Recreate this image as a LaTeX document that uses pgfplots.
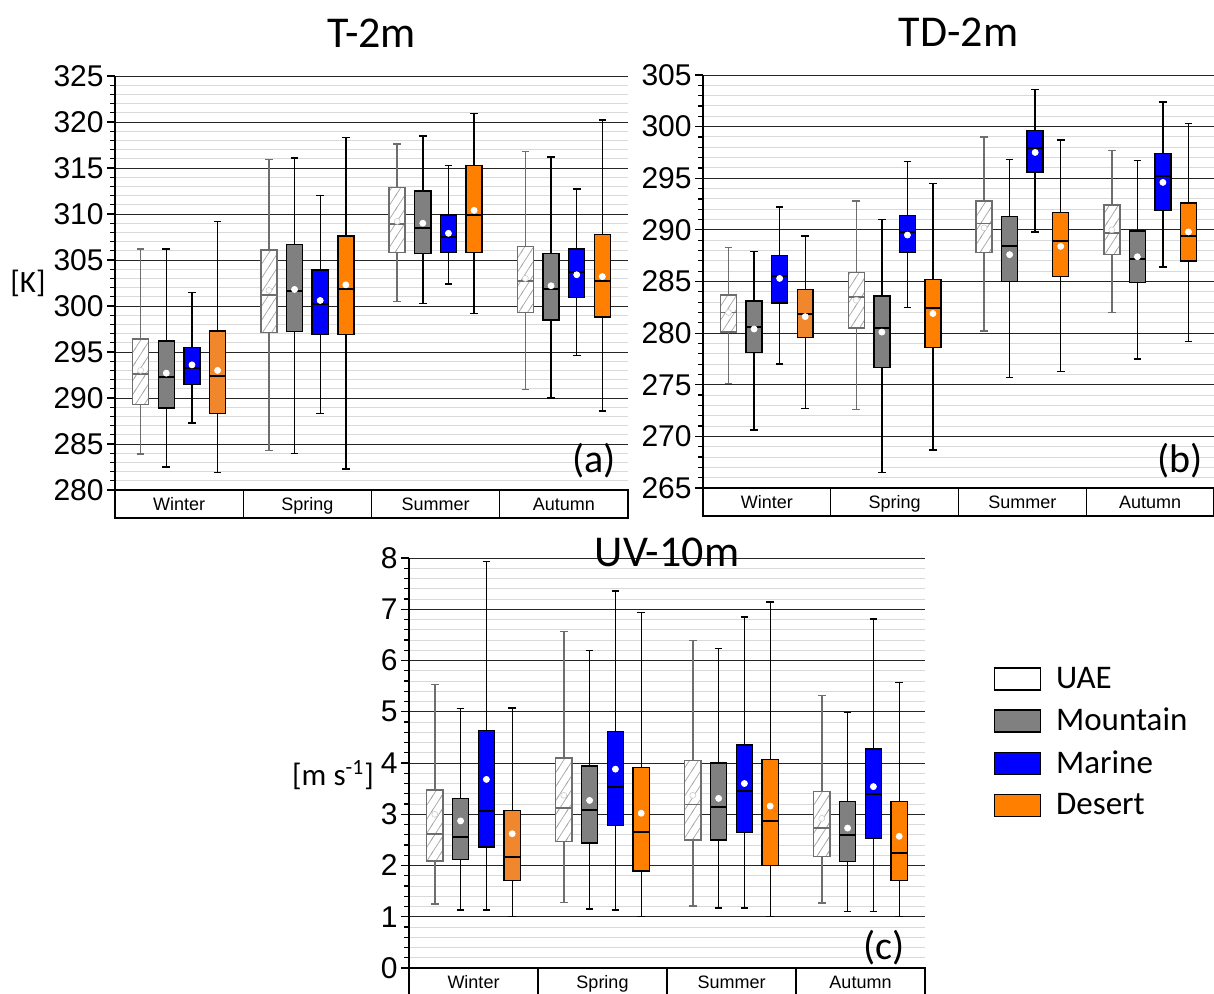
\documentclass[border=0pt]{standalone}
\usepackage{pgfplots}
\pgfplotsset{compat=1.18}
\usepgfplotslibrary{statistics}
\usetikzlibrary{patterns}
\usepackage{fontspec}
\setmainfont{Liberation Sans}
\newfontfamily\calfont{Carlito}
\definecolor{mgray}{RGB}{128,128,128}
\definecolor{mblue}{RGB}{0,0,255}
\definecolor{morange}{RGB}{255,128,0}
\definecolor{worange}{RGB}{240,135,45}
\definecolor{ugray}{RGB}{110,110,110}

\pgfdeclarepatternformonly{uaehatch}{\pgfqpoint{-1pt}{-1pt}}{\pgfqpoint{5.5pt}{8pt}}{\pgfqpoint{4.5pt}{7pt}}{%
  \pgfsetlinewidth{0.35pt}%
  \pgfpathmoveto{\pgfqpoint{-0.45pt}{-0.7pt}}%
  \pgfpathlineto{\pgfqpoint{4.95pt}{7.7pt}}%
  \pgfusepath{stroke}}

\newcommand{\bp}[7]{\addplot[#1, boxplot prepared={draw position=#2, lower whisker=#3, lower quartile=#4, median=#5, upper quartile=#6, upper whisker=#7}] coordinates {};}

\pgfplotsset{
  bpbase/.style={boxplot/draw direction=y, boxplot/box extend=0.125, boxplot/whisker extend=0.06, line width=0.7pt},
  uae/.style={bpbase, draw=ugray, boxplot/every box/.style={fill=white, postaction={pattern=uaehatch, pattern color=gray!70}}, boxplot/every median/.style={line width=0.8pt}},
  mtn/.style={bpbase, draw=black, boxplot/every box/.style={fill=mgray}, boxplot/every median/.style={line width=1pt}},
  mar/.style={bpbase, draw=black, boxplot/every box/.style={fill=mblue}, boxplot/every median/.style={line width=1pt}},
  des/.style={bpbase, draw=black, boxplot/every box/.style={fill=morange}, boxplot/every median/.style={line width=1pt}},
  desw/.style={bpbase, draw=black, boxplot/every box/.style={fill=worange}, boxplot/every median/.style={line width=1pt}},
  meanw/.style={only marks, mark=*, mark size=1.5pt, mark options={fill=white, draw=white}},
  meanu/.style={only marks, mark=*, mark size=1.5pt, mark options={fill=white, draw=gray!40, line width=0.3pt}},
  panel/.style={
    scale only axis, xmin=0, xmax=4, axis x line=none, axis y line*=left,
    tick align=outside, major tick length=4pt, minor tick length=2.5pt,
    minor y tick num=4, ymajorgrids, yminorgrids,
    major grid style={black!85, line width=0.5pt},
    minor grid style={black!15, line width=0.5pt},
    axis line style={black, line width=0.7pt},
    every tick/.style={black, line width=0.6pt},
    yticklabel style={font=\fontsize{15}{15}\selectfont, inner sep=1.5pt},
    /pgf/number format/assume math mode=true,
    clip=false,
  },
}

\newcommand{\catrow}{%
 \draw[line width=0.7pt] (rel axis cs:0,0) -- ([yshift=-14pt]rel axis cs:0,0) -- ([yshift=-14pt]rel axis cs:1,0) -- (rel axis cs:1,0) -- cycle;
 \draw[line width=0.7pt] (rel axis cs:0.25,0) -- ([yshift=-14pt]rel axis cs:0.25,0);
 \draw[line width=0.7pt] (rel axis cs:0.5,0) -- ([yshift=-14pt]rel axis cs:0.5,0);
 \draw[line width=0.7pt] (rel axis cs:0.75,0) -- ([yshift=-14pt]rel axis cs:0.75,0);
 \node[font=\fontsize{9}{9}\selectfont, anchor=base, inner sep=0pt] at ([yshift=-10.2pt]rel axis cs:0.125,0) {Winter};
 \node[font=\fontsize{9}{9}\selectfont, anchor=base, inner sep=0pt] at ([yshift=-10.2pt]rel axis cs:0.375,0) {Spring};
 \node[font=\fontsize{9}{9}\selectfont, anchor=base, inner sep=0pt] at ([yshift=-10.2pt]rel axis cs:0.625,0) {Summer};
 \node[font=\fontsize{9}{9}\selectfont, anchor=base, inner sep=0pt] at ([yshift=-10.2pt]rel axis cs:0.875,0) {Autumn};
}

\begin{document}
\begin{tikzpicture}
\useasboundingbox (0,0) rectangle (607pt,496.5pt);

% ---------------- (a) T-2m
\begin{axis}[panel, at={(57.5pt,251.5pt)}, anchor=south west,
  width=256.5pt, height=207pt, ymin=280, ymax=325, ytick distance=5]
\bp{uae}{0.2}{283.9}{289.3}{292.6}{296.4}{306.2}
\bp{mtn}{0.4}{282.5}{288.9}{292.3}{296.2}{306.2}
\bp{mar}{0.6}{287.3}{291.5}{293.3}{295.5}{301.5}
\bp{desw}{0.8}{281.9}{288.3}{292.4}{297.3}{309.2}
\bp{uae}{1.2}{284.3}{297.1}{301.2}{306.1}{315.9}
\bp{mtn}{1.4}{284.0}{297.2}{301.6}{306.7}{316.1}
\bp{mar}{1.6}{288.3}{296.9}{300.2}{303.9}{312.0}
\bp{des}{1.8}{282.3}{296.9}{301.9}{307.6}{318.3}
\bp{uae}{2.2}{300.5}{305.8}{308.9}{312.9}{317.6}
\bp{mtn}{2.4}{300.3}{305.7}{308.5}{312.5}{318.5}
\bp{mar}{2.6}{302.4}{305.8}{307.5}{309.9}{315.3}
\bp{des}{2.8}{299.2}{305.8}{309.9}{315.3}{320.9}
\bp{uae}{3.2}{290.9}{299.3}{302.7}{306.5}{316.8}
\bp{mtn}{3.4}{290.0}{298.5}{301.8}{305.7}{316.2}
\bp{mar}{3.6}{294.6}{300.9}{303.7}{306.2}{312.7}
\bp{des}{3.8}{288.6}{298.8}{302.7}{307.8}{320.2}
\addplot[meanu] coordinates {(0.2,293.0) (1.2,301.7) (2.2,309.2) (3.2,303.0)};
\addplot[meanw] coordinates {(0.4,292.7) (0.6,293.6) (0.8,293.0) (1.4,301.8) (1.6,300.6) (1.8,302.3)
 (2.4,309.0) (2.6,307.9) (2.8,310.4) (3.4,302.2) (3.6,303.4) (3.8,303.2)};
\catrow
\node[font=\calfont\fontsize{22}{22}\selectfont] at ([yshift=21.5pt]rel axis cs:0.5,1) {T-2m};
\node[font=\calfont\fontsize{15.5}{15.5}\selectfont] at ([xshift=-43.5pt]rel axis cs:0,0.5) {[K]};
\node[font=\calfont\fontsize{20}{20}\selectfont, anchor=south east, inner sep=0pt] at ([xshift=-6pt,yshift=6pt]rel axis cs:1,0) {(a)};
\end{axis}

% ---------------- (b) TD-2m
\begin{axis}[panel, at={(351.5pt,252.5pt)}, anchor=south west,
  width=255.5pt, height=206.5pt, ymin=265, ymax=305, ytick distance=5]
\bp{uae}{0.2}{275.1}{280.1}{282.0}{283.7}{288.3}
\bp{mtn}{0.4}{270.6}{278.1}{280.6}{283.1}{287.9}
\bp{mar}{0.6}{277.0}{282.9}{285.5}{287.5}{292.2}
\bp{desw}{0.8}{272.7}{279.6}{281.9}{284.2}{289.4}
\bp{uae}{1.2}{272.6}{280.5}{283.5}{285.9}{292.8}
\bp{mtn}{1.4}{266.5}{276.7}{280.5}{283.6}{291.0}
\bp{mar}{1.6}{282.5}{287.8}{289.8}{291.4}{296.6}
\bp{des}{1.8}{268.7}{278.6}{282.4}{285.2}{294.5}
\bp{uae}{2.2}{280.2}{287.8}{290.6}{292.8}{299.0}
\bp{mtn}{2.4}{275.7}{285.0}{288.4}{291.3}{296.8}
\bp{mar}{2.6}{289.8}{295.6}{297.9}{299.6}{303.6}
\bp{des}{2.8}{276.3}{285.5}{288.9}{291.7}{298.7}
\bp{uae}{3.2}{282.0}{287.6}{289.7}{292.4}{297.7}
\bp{mtn}{3.4}{277.5}{284.9}{287.2}{289.9}{296.7}
\bp{mar}{3.6}{286.4}{291.9}{295.2}{297.4}{302.4}
\bp{des}{3.8}{279.2}{287.0}{289.4}{292.6}{300.3}
\addplot[meanu] coordinates {(0.2,282.0) (1.2,283.2) (2.2,290.2) (3.2,290.0)};
\addplot[meanw] coordinates {(0.4,280.4) (0.6,285.3) (0.8,281.6) (1.4,280.1) (1.6,289.5) (1.8,281.9)
 (2.4,287.6) (2.6,297.5) (2.8,288.4) (3.4,287.4) (3.6,294.6) (3.8,289.8)};
\catrow
\node[font=\calfont\fontsize{22}{22}\selectfont] at ([yshift=21.5pt]rel axis cs:0.5,1) {TD-2m};
\node[font=\calfont\fontsize{20}{20}\selectfont, anchor=south east, inner sep=0pt] at ([xshift=-5.5pt,yshift=5pt]rel axis cs:1,0) {(b)};
\end{axis}

% ---------------- (c) UV-10m
\begin{axis}[panel, at={(204.5pt,12.5pt)}, anchor=south west,
  width=258pt, height=205pt, ymin=0, ymax=8, ytick distance=1,
  legend style={at={(1.132,0.738)}, anchor=north west, draw=none, fill=none,
    font=\calfont\fontsize{16.5}{16.5}\selectfont, row sep=7.5pt, column sep=7pt,
    inner sep=0pt, nodes={inner sep=0.5pt}},
  legend cell align=left,
  legend image code/.code={\draw[#1, line width=0.8pt] (0pt,-5.5pt) rectangle (23pt,5.5pt);}]
\addlegendimage{draw=black, fill=white}\addlegendentry{UAE}
\addlegendimage{draw=black, fill=mgray}\addlegendentry{Mountain}
\addlegendimage{draw=black, fill=mblue}\addlegendentry{Marine}
\addlegendimage{draw=black, fill=morange}\addlegendentry{Desert}
\bp{uae}{0.2}{1.25}{2.09}{2.62}{3.47}{5.53}
\bp{mtn}{0.4}{1.13}{2.12}{2.55}{3.31}{5.06}
\bp{mar}{0.6}{1.13}{2.36}{3.07}{4.64}{7.93}
\bp{desw}{0.8}{1.00}{1.71}{2.17}{3.07}{5.07}
\bp{uae}{1.2}{1.28}{2.47}{3.12}{4.10}{6.57}
\bp{mtn}{1.4}{1.15}{2.44}{3.08}{3.94}{6.19}
\bp{mar}{1.6}{1.13}{2.78}{3.54}{4.62}{7.36}
\bp{des}{1.8}{1.00}{1.89}{2.65}{3.91}{6.94}
\bp{uae}{2.2}{1.21}{2.50}{3.19}{4.05}{6.39}
\bp{mtn}{2.4}{1.17}{2.50}{3.15}{4.00}{6.24}
\bp{mar}{2.6}{1.17}{2.65}{3.46}{4.35}{6.85}
\bp{des}{2.8}{1.00}{2.00}{2.86}{4.07}{7.14}
\bp{uae}{3.2}{1.27}{2.18}{2.73}{3.44}{5.32}
\bp{mtn}{3.4}{1.10}{2.08}{2.59}{3.25}{4.98}
\bp{mar}{3.6}{1.10}{2.53}{3.39}{4.27}{6.81}
\bp{des}{3.8}{1.00}{1.71}{2.25}{3.25}{5.57}
\addplot[meanu] coordinates {(0.2,3.0) (1.2,3.37) (2.2,3.37) (3.2,2.92)};
\addplot[meanw] coordinates {(0.4,2.87) (0.6,3.68) (0.8,2.62) (1.4,3.27) (1.6,3.88) (1.8,3.02)
 (2.4,3.31) (2.6,3.60) (2.8,3.16) (3.4,2.73) (3.6,3.54) (3.8,2.57)};
\catrow
\node[font=\calfont\fontsize{22}{22}\selectfont] at ([yshift=3pt]rel axis cs:0.5,1) {UV-10m};
\node[font=\calfont\fontsize{15.5}{15.5}\selectfont] at ([xshift=-38pt]rel axis cs:0,0.47) {[m s\textsuperscript{-1}]};
\node[font=\calfont\fontsize{20}{20}\selectfont, anchor=south east, inner sep=0pt] at ([xshift=-10pt,yshift=1.5pt]rel axis cs:1,0) {(c)};
\end{axis}
\end{tikzpicture}
\end{document}
